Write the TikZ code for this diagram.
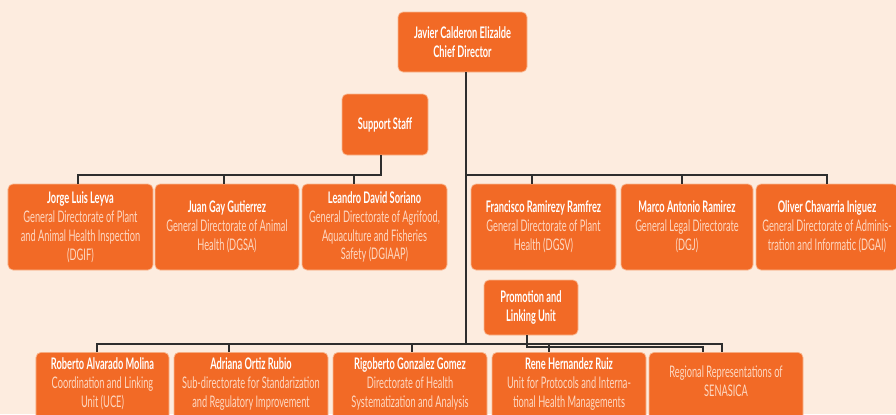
\documentclass[tikz,border=0pt]{standalone}
\usepackage{fontspec}
\setmainfont{Lato}[FakeStretch=0.58]
\definecolor{bg}{HTML}{FDECDF}
\definecolor{boxc}{HTML}{F26A26}
\definecolor{boxedge}{HTML}{F9B891}
\definecolor{subc}{HTML}{FDD8C2}
\definecolor{lnc}{HTML}{2E2E2E}
\newcommand{\nm}[1]{\textbf{#1}}
\newcommand{\ds}[1]{\textcolor{subc}{#1}}
\newcommand{\topbox}[3]{\parbox[t][#1][t]{#2}{\centering\strut #3}}
\tikzset{
  org/.style={fill=boxc, draw=boxedge, line width=0.7bp, rounded corners=5bp,
    align=center, text=white, font=\fontsize{16}{19}\selectfont, inner sep=0pt},
  rowbox/.style={org, minimum height=86bp},
  botbox/.style={org, anchor=north, inner xsep=0pt, inner ysep=4bp},
  conn/.style={draw=lnc, line width=1.2bp},
}
\begin{document}
\begin{tikzpicture}[x=1bp, y=-1bp]
\useasboundingbox (0,0) rectangle (896,414);
\clip (0,0) rectangle (896,414);
\fill[bg] (0,0) rectangle (896,414);

% top level
\node[org, minimum width=129bp, minimum height=60bp] (chief) at (462.5,42)
  {\nm{Javier Calderon Elizalde}\\\nm{Chief Director}};
\node[org, minimum width=86bp, minimum height=61bp] (support) at (385,124.5)
  {\nm{Support Staff}};

% first row
\node[rowbox, minimum width=145bp] (jorge) at (80.5,227)
  {\nm{Jorge Luis Leyva}\\\ds{General Directorate of Plant}\\\ds{and Animal Health Inspection}\\\ds{(DGIF)}};
\node[rowbox, minimum width=144bp] (juan) at (227,227)
  {\nm{Juan Gay Gutierrez}\\\ds{General Directorate of Animal}\\\ds{Health (DGSA)}};
\node[rowbox, minimum width=145bp] (leandro) at (374.5,227)
  {\nm{Leandro David Soriano}\\\ds{General Directorate of Agrifood,}\\\ds{Aquaculture and Fisheries}\\\ds{Safety (DGIAAP)}};
\node[rowbox, minimum width=145bp] (francisco) at (543.5,227)
  {\nm{Francisco Ramirezy Ramfrez}\\\ds{General Directorate of Plant}\\\ds{Health (DGSV)}};
\node[rowbox, minimum width=132bp] (marco) at (687,227)
  {\nm{Marco Antonio Ramirez}\\\ds{General Legal Directorate}\\\ds{(DGJ)}};
\node[rowbox, minimum width=142bp] (oliver) at (827,227)
  {\nm{Oliver Chavarria Iniguez}\\\ds{General Directorate of Adminis-}\\\ds{tration and Informatic (DGAI)}};

% promotion unit
\node[org, minimum width=94bp, minimum height=55bp] (promo) at (531,307.5)
  {\nm{Promotion and}\\\nm{Linking Unit}};

% bottom row
\node[botbox] (roberto) at (102.5,352)
  {\topbox{80bp}{133bp}{\nm{Roberto Alvarado Molina}\\\ds{Coordination and Linking}\\\ds{Unit (UCE)}}};
\node[botbox] (adriana) at (251,352)
  {\topbox{80bp}{154bp}{\nm{Adriana Ortiz Rubio}\\\ds{Sub-directorate for Standarization}\\\ds{and Regulatory Improvement}}};
\node[botbox] (rigoberto) at (410,352)
  {\topbox{80bp}{154bp}{\nm{Rigoberto Gonzalez Gomez}\\\ds{Directorate of Health}\\\ds{Systematization and Analysis}}};
\node[botbox] (rene) at (569,352)
  {\topbox{80bp}{154bp}{\nm{Rene Hernandez Ruiz}\\\ds{Unit for Protocols and Interna-}\\\ds{tional Health Managements}}};
\node[botbox, inner ysep=12bp] (regional) at (726,352)
  {\topbox{72bp}{154bp}{\ds{Regional Representations of}\\\ds{SENASICA}}};

% connectors
\coordinate (bus) at (466,344);
\draw[conn] (chief.south -| bus) -- (bus);
% support staff group
\draw[conn] (381,0 |- support.south) -- (381,175) -- (78,175) -- (78,0 |- jorge.north);
\draw[conn] (224,175) -- (224,0 |- juan.north);
\draw[conn] (354,175) -- (354,0 |- leandro.north);
% right group
\draw[conn] (466,175) -- (827,175) -- (827,0 |- oliver.north);
\draw[conn] (532,175) -- (532,0 |- francisco.north);
\draw[conn] (682,175) -- (682,0 |- marco.north);
% bottom group
\draw[conn] (97,0 |- roberto.north) -- (97,344) -- (722,344) -- (722,0 |- regional.north);
\draw[conn] (229,344) -- (229,0 |- adriana.north);
\draw[conn] (412,344) -- (412,0 |- rigoberto.north);
\draw[conn] (549,344) -- (549,0 |- rene.north);
\draw[conn] (527,0 |- promo.south) -- (527,347) -- (703,347) -- (703,0 |- regional.north);
\end{tikzpicture}
\end{document}
